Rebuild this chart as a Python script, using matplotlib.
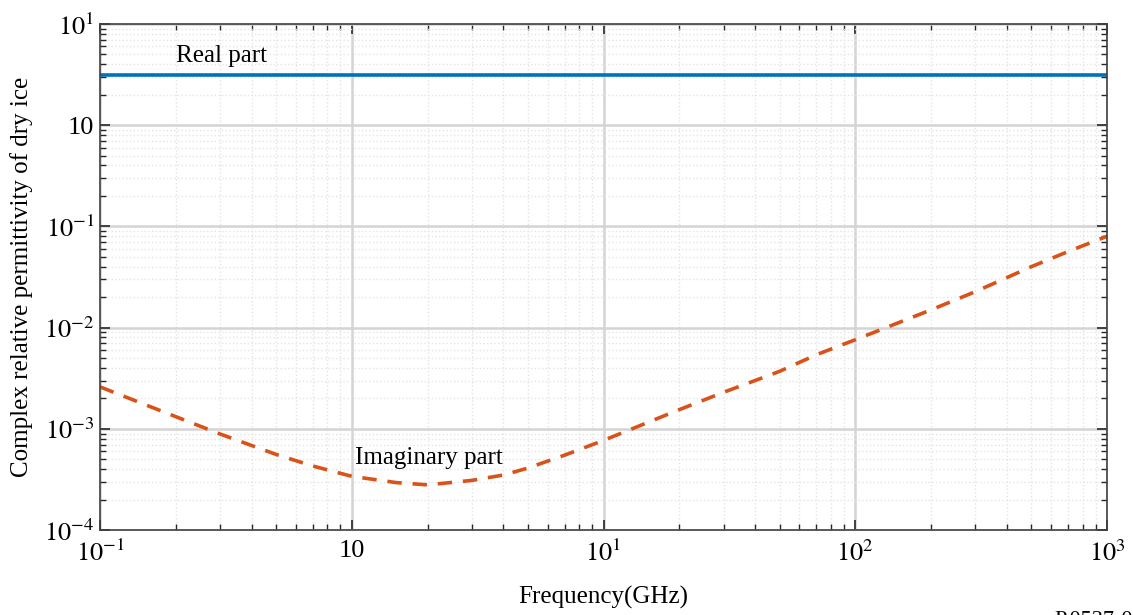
import numpy as np
import matplotlib
matplotlib.use("Agg")
import matplotlib.pyplot as plt
from matplotlib.ticker import LogLocator, NullFormatter

# values
freq_ghz = [0.1, 0.2, 0.3, 0.5, 0.7, 1, 1.5, 2, 3, 4, 5, 7, 10,
            20, 30, 50, 70, 100, 200, 300, 500, 700, 1000]
eps_imag = [2.6e-3, 1.32e-3, 8.9e-4, 5.6e-4, 4.3e-4, 3.4e-4, 2.95e-4, 2.8e-4,
            3.1e-4, 3.5e-4, 4.1e-4, 5.5e-4, 7.7e-4, 1.55e-3, 2.3e-3, 3.7e-3,
            5.4e-3, 7.6e-3, 1.5e-2, 2.27e-2, 4.0e-2, 5.65e-2, 8.0e-2]
real_freq = [0.1, 1000]
eps_real = [3.15, 3.15]

xtick_vals = [0.1, 1, 10, 100, 1000]
xtick_labels = [r"$10^{-1}$", "10", r"$10^{1}$", r"$10^{2}$", r"$10^{3}$"]
ytick_vals = [1e-4, 1e-3, 1e-2, 1e-1, 1, 10]
ytick_labels = [r"$10^{-4}$", r"$10^{-3}$", r"$10^{-2}$", r"$10^{-1}$", "10", r"$10^{1}$"]

plt.rcParams['font.family'] = ['Liberation Serif', 'DejaVu Serif']
plt.rcParams['mathtext.fontset'] = 'stix'

fig = plt.figure(figsize=(11.33, 6.15), dpi=100)
ax = fig.add_axes([0.0883, 0.138, 0.8888, 0.823])

ax.plot(real_freq, eps_real, color='#0072BD', lw=2.6)
ax.plot(freq_ghz, eps_imag, color='#D95319', lw=2.6, linestyle=(0, (4, 3)))

ax.set_xscale('log')
ax.set_yscale('log')
ax.set_xlim(0.1, 1000)
ax.set_ylim(1e-4, 10)

ax.set_xticks(xtick_vals)
ax.set_xticklabels(xtick_labels)
ax.set_yticks(ytick_vals)
ax.set_yticklabels(ytick_labels)
ax.xaxis.set_minor_locator(LogLocator(base=10, subs=np.arange(2, 10), numticks=20))
ax.yaxis.set_minor_locator(LogLocator(base=10, subs=np.arange(2, 10), numticks=20))
ax.xaxis.set_minor_formatter(NullFormatter())
ax.yaxis.set_minor_formatter(NullFormatter())

ax.tick_params(which='both', direction='in', top=True, right=True, labelsize=19, colors='#262626')
ax.tick_params(which='major', length=7, width=1.2, pad=7)
ax.tick_params(axis='y', which='major', pad=4)
ax.tick_params(which='minor', length=4, width=1.0)
for lab in ax.get_xticklabels() + ax.get_yticklabels():
    lab.set_color('black')

ax.grid(True, which='major', color='#d4d4d4', lw=1.8, linestyle='-')
ax.grid(True, which='minor', color='#e4e4e4', lw=1.0, linestyle=':')
ax.set_axisbelow(True)
for s in ax.spines.values():
    s.set_color('#404040')
    s.set_linewidth(1.2)

ax.set_xlabel('Frequency(GHz)', fontsize=18, labelpad=14)
ax.set_ylabel('Complex relative permittivity of dry ice', fontsize=18, labelpad=8)

ax.text(0.2, 4.8, 'Real part', fontsize=18, va='center', ha='left')
ax.text(1.03, 5.2e-4, 'Imaginary part', fontsize=18, va='center', ha='left')

fig.text(0.931, -0.016, 'P.0527-04', fontsize=16, ha='left', va='baseline')

fig.savefig('out.png', dpi=100)
